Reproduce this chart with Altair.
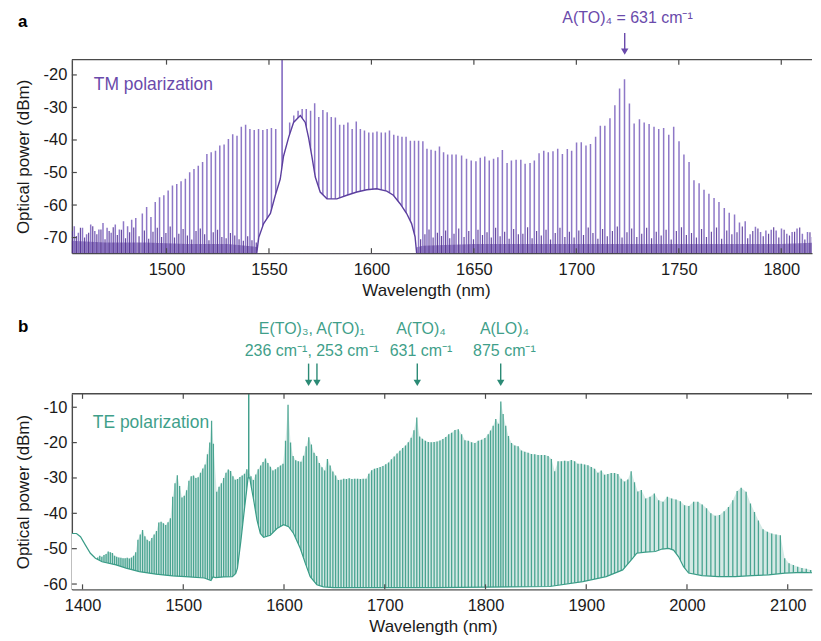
import altair as alt
import pandas as pd

# ---------------- Panel a : TM polarization ----------------
TM_LINE_WL = [1455.0, 1457.0, 1459.0, 1461.0, 1463.0, 1465.0, 1467.0, 1469.0, 1471.0, 1473.0,
              1475.0, 1477.0, 1479.0, 1481.0, 1483.0, 1485.0,
              1488.2, 1490.3, 1492.4, 1494.5, 1496.6, 1498.7, 1500.8, 1502.9, 1505.0, 1507.1,
              1509.2, 1511.3, 1513.4, 1515.5, 1517.6, 1519.7, 1521.8, 1523.9, 1526.0, 1528.1,
              1530.2, 1532.3, 1534.4, 1536.5, 1538.6, 1540.7, 1542.8, 1544.9, 1547.0, 1549.1,
              1551.2, 1553.3,
              1560.1, 1562.1, 1564.2, 1566.2, 1568.2, 1570.3, 1572.3, 1574.3, 1576.3, 1578.4,
              1580.4, 1582.4, 1584.5, 1586.5, 1588.5, 1590.6, 1592.6, 1594.6, 1596.6, 1598.7,
              1600.7, 1602.7, 1604.8, 1606.8, 1608.8, 1610.9, 1612.9, 1614.9, 1616.9, 1619.0,
              1621.0, 1623.0, 1625.1, 1627.1, 1629.1, 1631.2, 1633.2, 1635.2, 1637.2, 1639.3,
              1641.3,
              1644.0, 1646.4, 1648.7, 1651.0, 1653.1, 1655.3, 1657.5, 1659.6, 1661.7, 1663.9,
              1666.2, 1668.3, 1670.6, 1672.9, 1675.0, 1677.4, 1679.5, 1681.8, 1684.1, 1686.3,
              1688.6, 1690.9, 1693.2, 1695.6, 1697.7, 1700.1, 1702.4, 1704.7, 1706.9, 1709.4,
              1711.7, 1713.9, 1716.4, 1718.8, 1721.1, 1723.5, 1725.9, 1728.2,
              1730.8, 1733.1, 1735.5, 1737.9, 1740.2, 1742.6, 1745.1, 1747.5, 1750.1, 1752.5,
              1755.0, 1757.4, 1759.9, 1762.3, 1764.7, 1767.2, 1769.6, 1772.2, 1774.6, 1777.2,
              1779.6, 1782.4, 1784.8, 1787.4, 1789.9, 1792.5, 1795.1, 1797.5, 1800.1, 1802.7,
              1805.3, 1807.7, 1810.3, 1812.8, 1815.2, 1817.6]
TM_LINE_DB = [-66.5, -68.5, -67.0, -69.0, -66.0, -68.0, -67.5, -65.5, -67.0, -68.5,
              -66.0, -67.5, -65.0, -66.5, -64.5, -64.0,
              -62.6, -60.6, -63.7, -59.1, -57.6, -57.0, -55.5, -54.0, -53.5, -52.7,
              -51.9, -49.9, -48.9, -47.9, -46.8, -44.3, -43.8, -43.3, -41.7, -41.4,
              -39.7, -38.2, -38.7, -35.9, -35.3, -36.6, -36.9, -36.6, -36.9, -36.6,
              -36.3, -36.6,
              -34.6, -32.5, -31.0, -30.5, -30.5, -31.0, -28.7, -32.9, -30.8, -31.5,
              -32.9, -33.1, -35.3, -35.3, -34.6, -36.6, -34.3, -36.6, -37.1, -37.7,
              -37.7, -37.4, -37.7, -37.7, -37.1, -38.4, -38.7, -39.0, -39.0, -40.2,
              -40.2, -40.2, -40.4, -42.7, -43.0, -43.3, -42.0, -43.8, -44.5, -44.5,
              -44.5,
              -44.8, -45.8, -46.3, -46.5, -45.5, -45.1, -46.3, -45.8, -45.3, -43.1,
              -47.1, -46.3, -46.1, -46.1, -47.3, -47.1, -46.3, -44.1, -43.3, -43.8,
              -43.5, -42.7, -44.3, -42.8, -43.3, -40.8, -40.7, -41.7, -41.2, -39.0,
              -35.6, -35.6, -33.3, -29.3, -24.2, -21.3, -28.8, -34.9,
              -33.6, -34.6, -35.1, -35.9, -36.6, -36.3, -38.4, -35.9, -40.4, -44.5,
              -46.8, -52.4, -53.3, -55.3, -56.5, -57.8, -59.1, -60.9, -62.4, -62.9,
              -65.4, -65.0, -69.0, -66.7, -68.3, -67.8, -67.6, -67.8, -67.2, -68.8,
              -68.3, -67.2, -68.8, -68.3, -69.8, -68.3]
# weaker in-between spikes of the noise floor
TM_SIDE_WL = [1454.0, 1456.0, 1458.0, 1460.0, 1462.0, 1464.0, 1466.0, 1468.0, 1470.0, 1472.0,
              1474.0, 1476.0, 1478.0, 1480.0, 1482.0, 1484.0, 1486.6, 1489.2, 1491.3, 1493.4,
              1495.5, 1497.6, 1499.7, 1501.8, 1503.9, 1506.0, 1508.1, 1510.2, 1512.3, 1514.4,
              1516.5, 1518.6, 1520.7, 1522.8, 1524.9, 1527.0, 1529.1, 1531.2, 1533.3, 1535.4,
              1537.5, 1539.6, 1541.7, 1543.8,
              1624.0, 1626.1, 1628.1, 1630.1, 1632.2, 1634.2, 1636.2, 1638.2, 1640.3, 1642.6,
              1645.2, 1647.5, 1649.8, 1652.0, 1654.2, 1656.4, 1658.5, 1660.6, 1662.8, 1665.0,
              1667.2, 1669.4, 1671.7, 1673.9, 1676.2, 1678.4, 1680.6, 1682.9, 1685.2, 1687.4,
              1689.7, 1692.0, 1694.4, 1696.6, 1698.9, 1701.2, 1703.5, 1705.8, 1708.1, 1710.5,
              1712.8, 1715.1, 1717.6, 1720.0, 1722.3, 1724.7, 1727.0, 1729.5, 1731.9, 1734.3,
              1736.7, 1739.0, 1741.4, 1743.8, 1746.3, 1748.8, 1751.3, 1753.7, 1756.2, 1758.6,
              1761.1, 1763.5, 1765.9, 1768.4, 1770.9, 1773.4, 1775.9, 1778.4, 1781.0, 1783.6,
              1786.1, 1788.6, 1791.2, 1793.8, 1796.3, 1798.8, 1801.4, 1804.0, 1806.5, 1809.0,
              1811.5, 1814.0]
TM_SIDE_DB = [-68.0, -69.5, -67.0, -70.0, -68.5, -66.5, -69.0, -67.5, -70.5, -68.0,
              -66.8, -69.2, -67.6, -70.2, -68.4, -66.9, -69.6, -67.8, -70.4, -68.2,
              -67.0, -69.8, -68.6, -66.6, -70.0, -68.8, -67.4, -69.4, -70.6, -68.0,
              -67.2, -69.0, -70.8, -68.4, -67.6, -69.8, -70.2, -68.6, -69.4, -70.5,
              -71.0, -69.6, -70.8, -71.5,
              -70.5, -69.0, -67.5, -70.0, -68.5, -69.5, -67.8, -70.2, -68.8, -67.2,
              -69.8, -68.0, -70.5, -67.6, -69.2, -68.4, -70.0, -67.0, -69.6, -68.2,
              -70.4, -67.4, -69.0, -68.8, -66.8, -70.2, -68.0, -69.4, -67.6, -70.6,
              -68.6, -67.0, -69.8, -68.2, -70.0, -67.8, -69.2, -66.9, -68.6, -70.4,
              -67.4, -69.6, -68.0, -66.6, -70.0, -68.4, -67.2, -69.8, -68.8, -67.0,
              -70.2, -68.2, -69.4, -67.6, -70.6, -68.0, -66.8, -69.2, -68.6, -70.0,
              -67.4, -69.8, -68.2, -66.9, -70.4, -67.8, -69.0, -68.4, -66.6, -70.2,
              -68.0, -67.2, -69.6, -68.8, -66.8, -70.0, -67.6, -69.4, -68.2, -66.9,
              -70.6, -68.4]
TM_PUMP_WL = [1556.4]
TM_PUMP_DB = [-5.0]
TM_HUMP_WL = [1544.0, 1545.0, 1547.4, 1550.7, 1553.1, 1555.5, 1557.1, 1559.6, 1562.0, 1565.3,
              1567.7, 1569.3, 1571.0, 1572.6, 1575.0, 1578.3, 1583.1, 1588.0, 1592.9, 1597.7,
              1602.6, 1607.5, 1610.7, 1614.0, 1617.2, 1619.6, 1621.3, 1622.1]
TM_HUMP_DB = [-75.0, -70.0, -65.7, -62.6, -57.0, -52.0, -45.0, -39.2, -34.6, -32.5,
              -34.6, -39.2, -45.3, -51.4, -56.0, -58.1, -58.1, -57.0, -56.0, -55.3,
              -55.0, -55.7, -57.0, -59.6, -62.6, -65.7, -69.8, -75.0]
TM_NOISE_WL = [1453.3, 1470.0, 1490.0, 1510.0, 1530.0, 1546.0, 1560.0, 1610.0, 1625.0, 1650.0,
               1700.0, 1750.0, 1800.0, 1820.0]
TM_NOISE_DB = [-71.0, -71.5, -71.5, -72.0, -72.0, -73.0, -75.0, -75.0, -72.5, -72.0,
               -72.0, -72.0, -72.0, -71.5]
TM_XTICKS = [1500, 1550, 1600, 1650, 1700, 1750, 1800]
TM_YTICKS = [-70, -60, -50, -40, -30, -20]
TM_XDOMAIN = [1453.8, 1815.0]
TM_YDOMAIN = [-74.8, -15.3]
TM_ANNOT_WL = [1725.0]
TM_ANNOT_TEXT = ["A(TO)\u2084 = 631 cm\u207b\u00b9"]
TM_ARROW_WL = [1723.6]

# ---------------- Panel b : TE polarization ----------------
TE_LINE_WL = [1415.0, 1417.1, 1419.2, 1421.3, 1423.4, 1425.5, 1427.6, 1429.7, 1431.8, 1433.9,
              1436.0, 1438.1, 1440.2, 1442.3, 1444.4, 1446.5, 1448.6, 1450.7, 1452.8,
              1455.0, 1457.3, 1459.6, 1461.9, 1464.2, 1466.5, 1468.8, 1471.1, 1473.4, 1475.7,
              1478.0, 1480.3, 1482.6, 1484.9, 1487.2, 1489.5, 1491.8, 1494.1, 1496.4, 1498.7,
              1501.0, 1503.3, 1505.6, 1507.9, 1510.2, 1512.5, 1514.8, 1517.1, 1519.4, 1521.7,
              1524.0, 1526.3, 1528.1, 1529.9,
              1533.2, 1535.5, 1537.8, 1540.1, 1542.4, 1544.7, 1547.0, 1549.3, 1551.6, 1553.9,
              1556.2, 1558.5, 1560.8, 1563.1,
              1567.2, 1569.6, 1572.0, 1574.4, 1576.8, 1579.2, 1581.6, 1584.0, 1586.5, 1589.0,
              1591.5, 1594.0, 1596.5, 1599.0, 1601.5, 1604.0, 1606.5, 1609.0, 1611.6, 1614.2,
              1616.8, 1619.4, 1622.0, 1624.6, 1627.2, 1629.8, 1632.4, 1635.0, 1637.7, 1640.4,
              1643.1, 1645.8, 1648.5, 1651.2, 1653.9, 1656.6, 1659.3, 1662.0, 1664.7, 1667.4,
              1670.2, 1673.0, 1675.8, 1678.6, 1681.4, 1684.2, 1687.0, 1689.8, 1692.6, 1695.4,
              1698.2, 1701.0, 1703.8, 1706.6, 1709.4, 1712.2, 1715.0, 1717.8, 1720.6, 1723.4,
              1726.2, 1729.0, 1731.8, 1734.6, 1737.4, 1740.3, 1743.2, 1746.1, 1749.0, 1751.9,
              1754.8, 1757.7, 1760.6, 1763.5,
              1766.4, 1769.7, 1773.0, 1776.3, 1779.6, 1782.9, 1786.2, 1789.5, 1792.8, 1796.1,
              1799.4, 1802.7, 1805.0, 1807.6, 1810.2, 1812.9, 1815.2, 1817.5, 1820.1, 1822.8,
              1825.8, 1829.1, 1832.4, 1835.7, 1839.0, 1842.3, 1845.6, 1848.9, 1852.2, 1855.5,
              1858.8, 1862.1, 1865.4, 1868.7, 1872.0, 1875.3, 1878.6, 1881.9, 1885.2, 1888.5,
              1891.8, 1895.1, 1898.4, 1901.7, 1905.0, 1908.3, 1911.6, 1914.9, 1918.2, 1921.5,
              1924.8, 1928.1, 1931.4, 1934.7, 1938.0, 1941.3, 1944.6, 1947.9, 1951.2,
              1954.7, 1959.0, 1963.3, 1967.6, 1971.9, 1976.2, 1980.5, 1984.8, 1989.1, 1993.4,
              1997.6, 2001.9, 2006.6, 2010.8, 2015.1, 2019.4, 2023.7, 2028.0, 2032.3, 2036.9,
              2041.2, 2045.5, 2049.8, 2053.8, 2058.7, 2063.0, 2067.0, 2070.9, 2075.5, 2079.8,
              2084.1, 2088.4, 2092.7, 2097.0, 2101.3, 2105.6, 2109.9, 2114.1, 2118.4, 2122.7,
              2127.0]
TE_LINE_DB = [-52.5, -52.0, -52.3, -51.8, -51.5, -50.8, -51.0, -51.2, -52.0, -52.3,
              -52.5, -52.6, -52.7, -52.7, -52.6, -52.8, -52.5, -52.0, -51.0,
              -47.5, -46.0, -44.7, -46.5, -47.5, -47.9, -47.0, -46.0, -45.0, -42.6,
              -42.4, -42.8, -43.3, -42.5, -41.4, -35.3, -31.5, -29.2, -32.3, -35.5,
              -35.0, -33.5, -30.8, -29.5, -29.3, -30.0, -29.8, -28.5, -27.3, -26.2,
              -23.3, -20.0, -13.8, -20.3,
              -33.9, -32.5, -31.5, -30.0, -28.5, -27.6, -28.0, -29.5, -30.5, -30.3,
              -29.7, -29.3, -28.8, -27.5,
              -29.5, -30.6, -29.0, -27.5, -26.5, -25.5, -24.5, -25.8, -26.8, -27.9,
              -27.5, -27.0, -26.5, -26.0, -19.5, -9.3, -20.0, -23.8, -25.0, -25.3,
              -25.4, -23.7, -21.0, -18.5, -20.5, -22.9, -23.8, -25.8, -27.0, -27.9,
              -24.6, -26.5, -28.2, -29.3, -30.6, -30.5, -30.2, -30.3, -30.1, -30.3,
              -30.2, -30.2, -30.3, -30.2, -30.2, -28.8, -27.8, -27.4, -27.2, -26.9,
              -26.6, -26.1, -25.6, -24.7, -23.9, -23.1, -22.3, -21.5, -20.8, -19.9,
              -18.6, -16.5, -12.9, -18.3, -18.9, -19.5, -19.8, -19.9, -19.8, -19.7,
              -19.4, -19.0, -18.4, -17.6,
              -17.2, -16.4, -16.2, -17.6, -19.3, -19.5, -19.9, -20.1, -19.5, -19.2,
              -18.7, -17.6, -16.6, -15.2, -13.3, -14.7, -8.4, -11.9, -15.2, -18.1,
              -20.1, -20.8, -21.0, -22.2, -22.6, -22.9, -23.2, -23.3, -23.5, -23.5,
              -23.5, -23.8, -24.6, -28.1, -25.3, -25.3, -25.1, -25.3, -24.9, -25.3,
              -26.0, -26.0, -26.2, -26.4, -26.9, -27.4, -28.5, -27.9, -29.1, -28.9,
              -28.6, -28.6, -28.9, -30.2, -31.0, -30.4, -28.1, -31.2, -33.8,
              -33.4, -35.8, -35.3, -34.4, -36.3, -36.7, -35.3, -35.8, -36.1, -36.6,
              -37.7, -37.9, -36.7, -36.7, -37.5, -38.6, -40.0, -40.7, -40.5, -39.4,
              -38.2, -36.3, -33.7, -32.8, -33.9, -37.2, -39.6, -42.0, -44.5, -45.2,
              -45.7, -46.0, -46.2, -52.7, -54.1, -54.6, -55.1, -55.5, -55.7, -56.0,
              -56.3]
TE_PUMP_WL = [1565.0]
TE_PUMP_DB = [-2.0]
TE_FLOOR_WL = [1389.4, 1394.0, 1398.0, 1402.9, 1407.8, 1412.8, 1419.4, 1433.3, 1443.2, 1456.4,
               1472.9, 1489.4, 1505.9, 1520.8, 1527.5, 1529.5, 1532.3, 1540.0, 1548.8, 1552.1,
               1553.8, 1557.1, 1560.4, 1562.7, 1564.3, 1566.0, 1567.5, 1569.9, 1573.2, 1576.5,
               1579.8, 1586.4, 1593.0, 1599.6, 1604.6, 1609.5, 1616.1, 1621.1, 1626.0, 1632.6,
               1639.2, 1649.0, 1750.0, 1863.7, 1896.6, 1919.8, 1936.2, 1946.2, 1950.0, 1958.7,
               1968.6, 1975.2, 1981.8, 1986.7, 1991.7, 1996.6, 2001.6, 2014.9, 2031.3, 2047.8,
               2064.4, 2080.8, 2097.3, 2113.9, 2133.0]
TE_FLOOR_DB = [-45.7, -45.7, -46.6, -49.0, -51.3, -52.7, -53.7, -54.6, -55.5, -56.5,
               -57.2, -57.7, -58.0, -58.3, -59.0, -58.0, -58.2, -58.0, -57.9, -57.0,
               -55.5, -48.0, -39.6, -34.0, -30.0, -30.0, -32.5, -36.3, -41.9, -45.7,
               -46.8, -46.2, -44.3, -43.2, -43.8, -45.7, -49.9, -54.1, -57.9, -60.2,
               -60.8, -61.0, -61.0, -60.7, -59.3, -57.9, -56.0, -52.7, -51.3, -51.0,
               -50.8, -50.1, -49.9, -50.4, -52.3, -55.1, -56.9, -57.6, -57.9, -57.9,
               -57.6, -57.4, -56.9, -56.7, -56.9]
TE_XTICKS = [1400, 1500, 1600, 1700, 1800, 1900, 2000, 2100]
TE_YTICKS = [-60, -50, -40, -30, -20, -10]
TE_XDOMAIN = [1389.4, 2124.1]
TE_YDOMAIN = [-61.5, -6.2]
TE_ANNOT_WL = [1627.6, 1627.6, 1736.0, 1736.0, 1818.8, 1818.8]
TE_ANNOT_TEXT = ["E(TO)\u2083, A(TO)\u2081", "236 cm\u207b\u00b9, 253 cm\u207b\u00b9",
                 "A(TO)\u2084", "631 cm\u207b\u00b9", "A(LO)\u2084", "875 cm\u207b\u00b9"]
TE_ANNOT_ROW = [0, 1, 0, 1, 0, 1]
TE_ARROW_WL = [1624.4, 1632.7, 1732.3, 1815.1]

# ---------------- style ----------------
W = 742
HA = 194
HB = 196
FONT = "Liberation Sans"
AX = "#4a4a4a"
TM_LINE = "#7a60bd"
TM_DARK = "#4e2c90"
TM_HUMPC = "#5c3f9f"
TM_TEXT = "#6a4aab"
TE_LINE = "#3a9c87"
TE_FILL = "#3a9c87"
TE_TEXT = "#3f9f8a"
TE_ARROW = "#2b8a75"


def enc(xdom, ydom, xt, yt, title_x):
    x = alt.X("wl:Q", scale=alt.Scale(domain=xdom, nice=False, zero=False),
              axis=alt.Axis(values=xt, title="Wavelength (nm)", format="d", titleX=title_x,
                            labelPadding=8, titlePadding=5))
    y = alt.Y("db:Q", scale=alt.Scale(domain=ydom, nice=False, zero=False),
              axis=alt.Axis(values=yt, title="Optical power (dBm)", labelExpr="'' + datum.value",
                            labelPadding=5, titlePadding=11))
    return x, y


def frame_layers(X, Y, xt, yt, h):
    one = pd.DataFrame({"k": [0]})
    xt_df = pd.DataFrame({"wl": xt})
    yt_df = pd.DataFrame({"db": yt})
    top = alt.Chart(one).mark_rule(color=AX, strokeWidth=1.4).encode(
        x=alt.value(0), x2=alt.value(W), y=alt.value(0))
    tt = alt.Chart(xt_df).mark_rule(color=AX, strokeWidth=1.2).encode(
        x=X, y=alt.value(0), y2=alt.value(5))
    tb = alt.Chart(xt_df).mark_rule(color=AX, strokeWidth=1.2).encode(
        x=X, y=alt.value(h), y2=alt.value(h - 5))
    tl = alt.Chart(yt_df).mark_rule(color=AX, strokeWidth=1.2).encode(
        y=Y, x=alt.value(0), x2=alt.value(5))
    return [top, tt, tb, tl]


one = pd.DataFrame({"k": [0]})

# ---------------- panel a ----------------
Xa, Ya = enc(TM_XDOMAIN, TM_YDOMAIN, TM_XTICKS, TM_YTICKS, 355)
tm_lines = pd.DataFrame({"wl": TM_LINE_WL, "db": TM_LINE_DB})
tm_side = pd.DataFrame({"wl": TM_SIDE_WL, "db": TM_SIDE_DB})
tm_pump = pd.DataFrame({"wl": TM_PUMP_WL, "db": TM_PUMP_DB})
tm_hump = pd.DataFrame({"wl": TM_HUMP_WL, "db": TM_HUMP_DB})
tm_noise = pd.DataFrame({"wl": TM_NOISE_WL, "db": TM_NOISE_DB})
tm_annot = pd.DataFrame({"wl": TM_ANNOT_WL, "t": TM_ANNOT_TEXT})
tm_arrow = pd.DataFrame({"wl": TM_ARROW_WL})

a_layers = [
    alt.Chart(tm_noise).mark_area(color=TM_DARK, opacity=0.55, clip=True).encode(
        x=Xa, y=Ya, y2=alt.datum(TM_YDOMAIN[0])),
    alt.Chart(tm_side).mark_rule(color=TM_DARK, strokeWidth=1.2, opacity=0.85, clip=True).encode(
        x=Xa, y=Ya, y2=alt.datum(TM_YDOMAIN[0])),
    alt.Chart(tm_lines).mark_rule(color=TM_LINE, strokeWidth=1.5, opacity=0.85, clip=True).encode(
        x=Xa, y=Ya, y2=alt.datum(TM_YDOMAIN[0])),
    alt.Chart(tm_pump).mark_rule(color=TM_LINE, strokeWidth=1.5, clip=True).encode(
        x=Xa, y=Ya, y2=alt.datum(TM_YDOMAIN[0])),
    alt.Chart(tm_hump).mark_area(color="white", clip=True).encode(
        x=Xa, y=Ya, y2=alt.datum(TM_YDOMAIN[0])),
    alt.Chart(tm_hump).mark_line(color=TM_HUMPC, strokeWidth=1.4, clip=True).encode(x=Xa, y=Ya),
] + frame_layers(Xa, Ya, TM_XTICKS, TM_YTICKS, HA) + [
    alt.Chart(one).mark_text(text="TM polarization", font=FONT, fontSize=17.5, color=TM_TEXT,
                             align="left", baseline="middle").encode(
        x=alt.value(22), y=alt.value(25.5)),
    alt.Chart(one).mark_text(text="a", font=FONT, fontSize=17, fontWeight="bold", color="black",
                             align="left", baseline="middle").encode(
        x=alt.value(-54), y=alt.value(-38)),
    alt.Chart(tm_annot).mark_text(font=FONT, fontSize=16, color=TM_TEXT, align="center",
                                  baseline="middle").encode(
        x=Xa, y=alt.value(-41.7), text="t:N"),
    alt.Chart(tm_arrow).mark_rule(color=TM_TEXT, strokeWidth=1.4).encode(
        x=Xa, y=alt.value(-26.7), y2=alt.value(-9)),
    alt.Chart(tm_arrow).mark_point(shape="triangle-down", filled=True, size=55, opacity=1,
                                   color=TM_TEXT).encode(x=Xa, y=alt.value(-8)),
]
panel_a = alt.layer(*a_layers).properties(width=W, height=HA)

# ---------------- panel b ----------------
Xb, Yb = enc(TE_XDOMAIN, TE_YDOMAIN, TE_XTICKS, TE_YTICKS, 362)
te_lines = pd.DataFrame({"wl": TE_LINE_WL, "db": TE_LINE_DB})
te_pump = pd.DataFrame({"wl": TE_PUMP_WL, "db": TE_PUMP_DB})
te_floor = pd.DataFrame({"wl": TE_FLOOR_WL, "db": TE_FLOOR_DB})
te_annot = pd.DataFrame({"wl": TE_ANNOT_WL, "t": TE_ANNOT_TEXT, "row": TE_ANNOT_ROW})
te_arrow = pd.DataFrame({"wl": TE_ARROW_WL})

b_layers = [
    alt.Chart(te_lines).mark_area(color=TE_FILL, opacity=0.22, clip=True).encode(
        x=Xb, y=Yb, y2=alt.datum(TE_YDOMAIN[0])),
    alt.Chart(te_lines).mark_rule(color=TE_LINE, strokeWidth=1.3, opacity=0.9, clip=True).encode(
        x=Xb, y=Yb, y2=alt.datum(TE_YDOMAIN[0])),
    alt.Chart(te_pump).mark_rule(color=TE_LINE, strokeWidth=1.4, clip=True).encode(
        x=Xb, y=Yb, y2=alt.datum(TE_YDOMAIN[0])),
    alt.Chart(te_floor).mark_area(color="white", clip=True).encode(
        x=Xb, y=Yb, y2=alt.datum(TE_YDOMAIN[0])),
    alt.Chart(te_floor).mark_line(color=TE_LINE, strokeWidth=1.2, clip=True).encode(x=Xb, y=Yb),
] + frame_layers(Xb, Yb, TE_XTICKS, TE_YTICKS, HB) + [
    alt.Chart(one).mark_text(text="TE polarization", font=FONT, fontSize=17.5, color=TE_TEXT,
                             align="left", baseline="middle").encode(
        x=alt.value(21), y=alt.value(29.5)),
    alt.Chart(one).mark_text(text="b", font=FONT, fontSize=17, fontWeight="bold", color="black",
                             align="left", baseline="middle").encode(
        x=alt.value(-54), y=alt.value(-67)),
    alt.Chart(te_annot).transform_filter("datum.row == 0").mark_text(
        font=FONT, fontSize=16, color=TE_TEXT, align="center", baseline="middle").encode(
        x=Xb, y=alt.value(-65.3), text="t:N"),
    alt.Chart(te_annot).transform_filter("datum.row == 1").mark_text(
        font=FONT, fontSize=16, color=TE_TEXT, align="center", baseline="middle").encode(
        x=Xb, y=alt.value(-43.3), text="t:N"),
    alt.Chart(te_arrow).mark_rule(color=TE_ARROW, strokeWidth=1.4).encode(
        x=Xb, y=alt.value(-30.3), y2=alt.value(-12)),
    alt.Chart(te_arrow).mark_point(shape="triangle-down", filled=True, size=55, opacity=1,
                                   color=TE_ARROW).encode(x=Xb, y=alt.value(-11)),
]
panel_b = alt.layer(*b_layers).properties(width=W, height=HB)

chart = alt.vconcat(panel_a, panel_b, spacing=19).properties(
    padding={"left": 6, "top": 1, "right": 0, "bottom": 0}
).configure_view(stroke=None).configure_axis(
    domainColor=AX, domainWidth=1.4, ticks=False, grid=False,
    labelFont=FONT, labelFontSize=16.5, labelColor="#1a1a1a",
    titleFont=FONT, titleFontSize=17, titleFontWeight="normal", titleColor="#1a1a1a"
)

chart.save("out.html", embed_options={"renderer": "svg", "actions": False})
